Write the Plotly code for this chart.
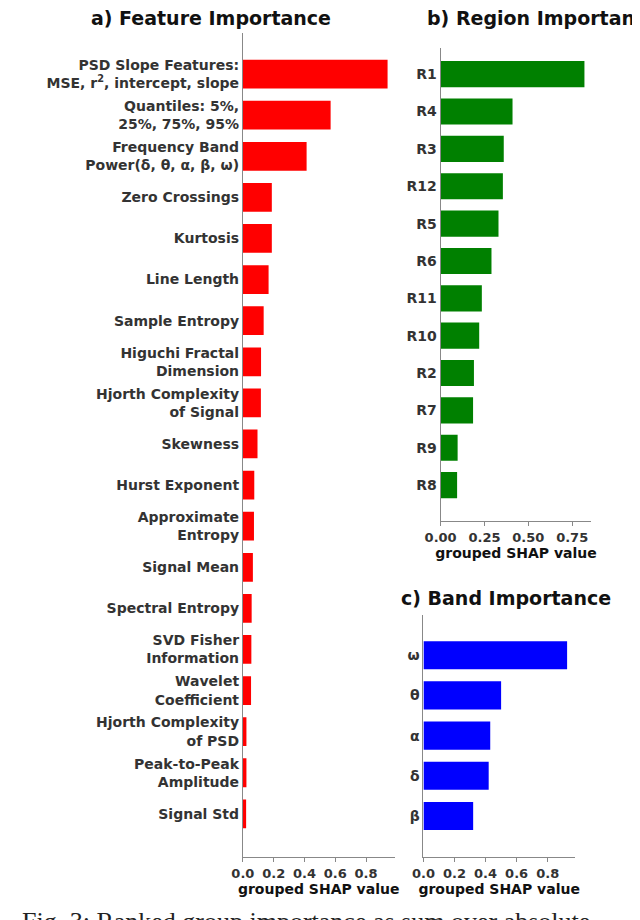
import plotly.graph_objects as go

feature_labels = [
    "PSD Slope Features:<br>MSE, r<sup>2</sup>, intercept, slope",
    "Quantiles: 5%,<br>25%, 75%, 95%",
    "Frequency Band<br>Power(δ, θ, α, β, ω)",
    "Zero Crossings",
    "Kurtosis",
    "Line Length",
    "Sample Entropy",
    "Higuchi Fractal<br>Dimension",
    "Hjorth Complexity<br>of Signal",
    "Skewness",
    "Hurst Exponent",
    "Approximate<br>Entropy",
    "Signal Mean",
    "Spectral Entropy",
    "SVD Fisher<br>Information",
    "Wavelet<br>Coefficient",
    "Hjorth Complexity<br>of PSD",
    "Peak-to-Peak<br>Amplitude",
    "Signal Std",
]
feature_values = [0.94, 0.57, 0.414, 0.188, 0.188, 0.167, 0.135, 0.118, 0.117, 0.095,
                  0.074, 0.072, 0.065, 0.057, 0.055, 0.053, 0.023, 0.023, 0.021]

region_labels = ["R1", "R4", "R3", "R12", "R5", "R6", "R11", "R10", "R2", "R7", "R9", "R8"]
region_values = [0.82, 0.41, 0.36, 0.355, 0.33, 0.29, 0.235, 0.22, 0.19, 0.185, 0.097, 0.094]

band_labels = ["ω", "θ", "α", "δ", "β"]
band_values = [0.925, 0.50, 0.43, 0.42, 0.32]

FONT = "DejaVu Sans"
W, H = 640, 920


def px_x(p):
    return p / W


def px_y(p):
    return 1 - p / H


panels = [
    # labels, values, color, axis suffix, x domain px, y domain px, x range, y range, xticks
    (feature_labels, feature_values, "#ff0000", "", (224.5, 380), (25, 849), [0, 0.985], [19.05, -1.0],
     [0, 0.2, 0.4, 0.6, 0.8], ["0.0", "0.2", "0.4", "0.6", "0.8"]),
    (region_labels, region_values, "#008000", "2", (427.3, 582), (40, 513), [0, 0.86], [11.96, -0.7],
     [0, 0.25, 0.5, 0.75], ["0.00", "0.25", "0.50", "0.75"]),
    (band_labels, band_values, "#0000ff", "3", (409.7, 565), (607, 849), [0, 0.975], [5.02, -1.0],
     [0, 0.2, 0.4, 0.6, 0.8], ["0.0", "0.2", "0.4", "0.6", "0.8"]),
]

fig = go.Figure()
layout = {}
for labels, values, color, sfx, xd, yd, xr, yr, tv, tt in panels:
    pos = list(range(len(labels)))
    fig.add_trace(go.Bar(
        x=values, y=pos, orientation="h", width=0.7,
        marker=dict(color=color, line=dict(width=0)),
        xaxis="x" + sfx, yaxis="y" + sfx, showlegend=False,
    ))
    axis_style = dict(showline=True, linecolor="#888888", linewidth=1, ticks="outside",
                      tickcolor="#888888", ticklen=4, showgrid=False, zeroline=False)
    layout["xaxis" + sfx] = dict(
        axis_style, domain=[px_x(xd[0]), px_x(xd[1])], range=xr, tickvals=tv, ticktext=tt,
        anchor="y" + sfx,
        tickfont=dict(family=FONT, size=13, color="#333333", weight="bold"),
        title=dict(text="grouped SHAP value", standoff=4,
                   font=dict(family=FONT, size=14, color="#111111", weight="bold")),
    )
    layout["yaxis" + sfx] = dict(
        axis_style, domain=[px_y(yd[1]), px_y(yd[0])], range=yr, tickvals=pos,
        ticktext=labels, anchor="x" + sfx, ticks="",
        tickfont=dict(family=FONT, size=14, color="#333333", weight="bold"),
    )

titles = [
    ("a) Feature Importance", 192, 10),
    ("b) Region Importance", 532, 10),
    ("c) Band Importance", 494, 590),
]
annotations = [
    dict(text=t, x=px_x(x), y=px_y(y), xref="paper", yref="paper", showarrow=False,
         xanchor="center", yanchor="middle",
         font=dict(family=FONT, size=19, color="#111111", weight="bold"))
    for t, x, y in titles
]
annotations.append(dict(
    text="Fig. 3: Ranked group importance as sum over absolute", x=px_x(-4), y=px_y(913),
    xref="paper", yref="paper", showarrow=False, xanchor="left", yanchor="middle",
    font=dict(family="Liberation Serif", size=26, color="#222222"),
))

fig.update_layout(
    **layout,
    annotations=annotations,
    width=W, height=H,
    margin=dict(l=0, r=0, t=0, b=0),
    plot_bgcolor="white", paper_bgcolor="white",
    bargap=0.3,
)

fig.write_html("out.html")
